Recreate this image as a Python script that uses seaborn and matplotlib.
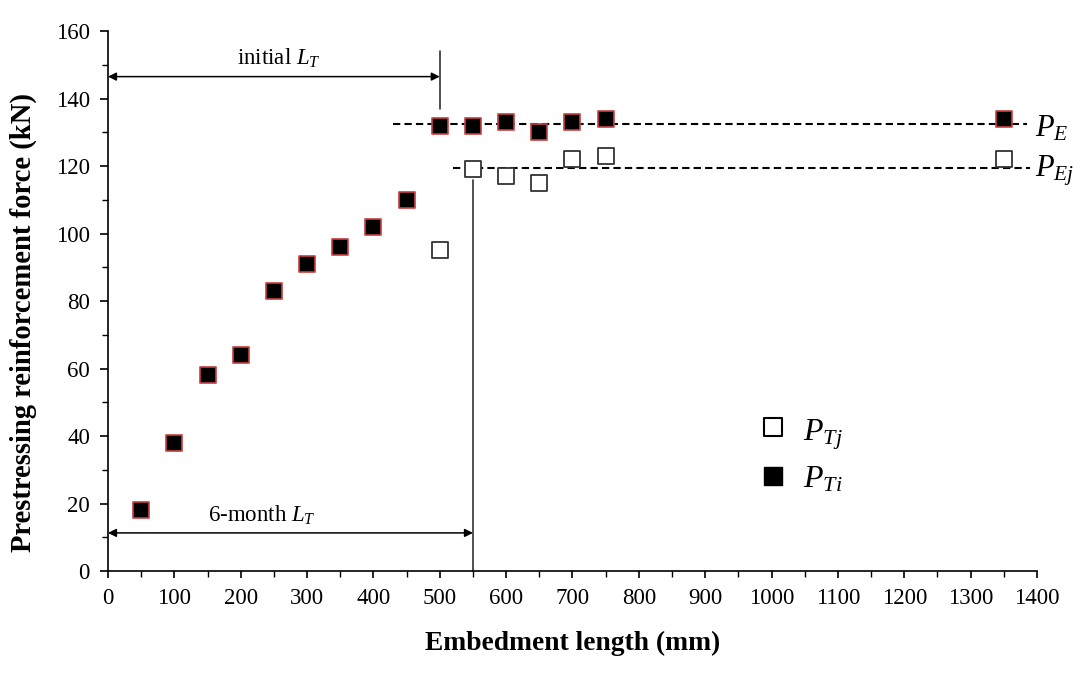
import matplotlib
matplotlib.use("Agg")
import matplotlib.pyplot as plt
import seaborn as sns
import pandas as pd
from matplotlib.ticker import MultipleLocator

# Data
x_ti = [50, 100, 150, 200, 250, 300, 350, 400, 450, 500, 550, 600, 650, 700, 750, 1350]
p_ti = [18, 38, 58, 64, 83, 91, 96, 102, 110, 132, 132, 133, 130, 133, 134, 134]
x_tj = [500, 550, 600, 650, 700, 750, 1350]
p_tj = [95, 119, 117, 115, 122, 123, 122]
pe_level = 132.5
pej_level = 119.5
pe_range = [430, 1385]
pej_range = [520, 1390]
initial_lt = 500
month6_lt = 550

sns.set_theme(style="ticks")
plt.rcParams['font.family'] = ['Liberation Serif', 'DejaVu Serif']
plt.rcParams['mathtext.fontset'] = 'custom'
plt.rcParams['mathtext.rm'] = 'Liberation Serif'
plt.rcParams['mathtext.it'] = 'Liberation Serif:italic'
plt.rcParams['mathtext.bf'] = 'Liberation Serif:bold'
for k in ['text.color', 'axes.labelcolor', 'xtick.color', 'ytick.color', 'axes.edgecolor']:
    plt.rcParams[k] = 'black'

fig = plt.figure(figsize=(10.81, 6.75), dpi=100)
ax = fig.add_axes([0.0999, 0.154, 0.8594, 0.8])

df_ti = pd.DataFrame({"x": x_ti, "y": p_ti})
df_tj = pd.DataFrame({"x": x_tj, "y": p_tj})

ax.plot(pe_range, [pe_level, pe_level], ls=(0, (3.5, 2)), color='black', lw=1.5, zorder=1)
ax.plot(pej_range, [pej_level, pej_level], ls=(0, (3.5, 2)), color='black', lw=1.5, zorder=1)

sns.scatterplot(data=df_tj, x="x", y="y", ax=ax, marker='s', s=125, facecolor='white',
                edgecolor='#333333', linewidth=1.3, zorder=3, legend=False)
sns.scatterplot(data=df_ti, x="x", y="y", ax=ax, marker='s', s=125, color='black',
                edgecolor='#c84040', linewidth=1.2, zorder=4, legend=False)

ax.set_xlim(0, 1400)
ax.set_ylim(0, 160)
ax.xaxis.set_major_locator(MultipleLocator(100))
ax.xaxis.set_minor_locator(MultipleLocator(50))
ax.yaxis.set_major_locator(MultipleLocator(20))
ax.yaxis.set_minor_locator(MultipleLocator(10))
ax.tick_params(axis='both', which='major', labelsize=16.5, width=1.2, color='black', direction='out')
ax.tick_params(axis='y', which='major', length=6, pad=7)
ax.tick_params(axis='x', which='major', length=5, pad=7)
ax.tick_params(axis='both', which='minor', length=4, width=1.0, color='black', direction='out')
for s in ['left', 'bottom']:
    ax.spines[s].set_linewidth(1.2)
sns.despine(ax=ax)

ax.set_xlabel("Embedment length (mm)", fontsize=19.8, fontweight='bold', labelpad=16)
ax.set_ylabel("Prestressing reinforcement force (kN)", fontsize=20.6, fontweight='bold')
ax.yaxis.set_label_coords(-0.076, 0.461)

# Annotations
ax.annotate("", xy=(0, 146.5), xytext=(initial_lt, 146.5),
            arrowprops=dict(arrowstyle='<|-|>', color='black', lw=1.1, mutation_scale=12, shrinkA=0, shrinkB=0))
ax.plot([initial_lt, initial_lt], [137, 154], color='#333333', lw=1.2)
ax.text(257, 152, r"initial $L_T$", ha='center', va='center', fontsize=16.5)

ax.annotate("", xy=(0, 11.3), xytext=(month6_lt, 11.3),
            arrowprops=dict(arrowstyle='<|-|>', color='black', lw=1.1, mutation_scale=12, shrinkA=0, shrinkB=0))
ax.plot([month6_lt, month6_lt], [0, 116], color='#333333', lw=1.2)
ax.text(232, 16.5, r"6-month $L_T$", ha='center', va='center', fontsize=16.5)

ax.text(1397, 131, r"$P_E$", ha='left', va='center', fontsize=22, clip_on=False)
ax.text(1397, 118.5, r"$P_{Ej}$", ha='left', va='center', fontsize=22, clip_on=False)

# Legend (manual placement)
ax.scatter([1002], [42.7], marker='s', s=150, facecolor='white', edgecolor='black', linewidth=1.5)
ax.scatter([1002], [28.1], marker='s', s=150, color='black')
ax.text(1047, 40.5, r"$P_{Tj}$", ha='left', va='center', fontsize=23)
ax.text(1047, 27.0, r"$P_{Ti}$", ha='left', va='center', fontsize=23)

fig.savefig("out.png", dpi=100)
